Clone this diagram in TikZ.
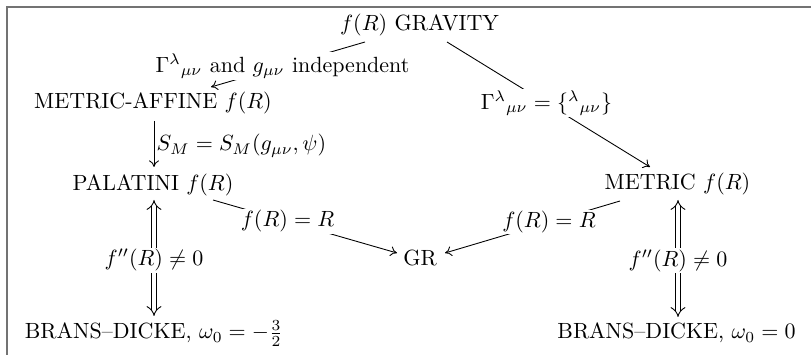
\documentclass[tikz,border=0pt]{standalone}
\usetikzlibrary{arrows.meta}
\begin{document}
\begin{tikzpicture}[x=0.4545pt,y=-0.4545pt,
  txt/.style={inner sep=0pt, outer sep=0pt, anchor=base},
  lbl/.style={fill=white, inner sep=0.6pt},
  ar/.style={line width=0.4pt, -{To[length=3pt,width=4.5pt]}},
  dar/.style={double, double distance=2pt, line width=0.4pt, {Implies}-{Implies}},
  framestyle/.style={draw=black!55, line width=0.7pt}]
\useasboundingbox (0,0) rectangle (811,355);
\draw[framestyle] (7,355) -- (7,7) -- (811,7);

\node[txt] (grav) at (419.5,31) {$f(R)$ GRAVITY};
\node[txt] (ma)   at (153,109) {METRIC-AFFINE $f(R)$};
\node[txt] (pal)  at (153,191) {PALATINI $f(R)$};
\node[txt] (met)  at (677.5,190) {METRIC $f(R)$};
\node[txt] (gr)   at (420,266) {GR};
\node[txt] (bdl)  at (154,339) {BRANS--DICKE, $\omega_0=-\frac{3}{2}$};
\node[txt] (bdr)  at (676.5,339) {BRANS--DICKE, $\omega_0=0$};

\draw[ar] ([shift={(-54.5,11)}]grav.base) -- node[lbl,pos=0.536]{$\Gamma^{\lambda}{}_{\mu\nu}$ and $g_{\mu\nu}$ independent} ([shift={(58,-22)}]ma.base);
\draw[ar] ([shift={(27.5,11)}]grav.base) -- node[lbl,pos=0.49]{$\Gamma^{\lambda}{}_{\mu\nu}=\{{}^{\lambda}{}_{\mu\nu}\}$} ([shift={(-27.5,-23)}]met.base);
\draw[ar] ([shift={(1,12)}]ma.base) -- node[anchor=west,inner sep=1pt,pos=0.54]{$S_M=S_M(g_{\mu\nu},\psi)$} ([shift={(1,-24)}]pal.base);
\draw[dar] ([shift={(1,9)}]pal.base) -- node[lbl,pos=0.52]{$f''(R)\neq 0$} ([shift={(0,-23)}]bdl.base);
\draw[dar] ([shift={(0.5,10)}]met.base) -- node[lbl,pos=0.52]{$f''(R)\neq 0$} ([shift={(1.5,-22)}]bdr.base);
\draw[ar] ([shift={(60,9)}]pal.base) -- node[lbl,pos=0.405]{$f(R)=R$} ([shift={(-23,-13)}]gr.base);
\draw[ar] ([shift={(-57.5,11)}]met.base) -- node[lbl,pos=0.406]{$f(R)=R$} ([shift={(25,-13)}]gr.base);
\end{tikzpicture}
\end{document}
